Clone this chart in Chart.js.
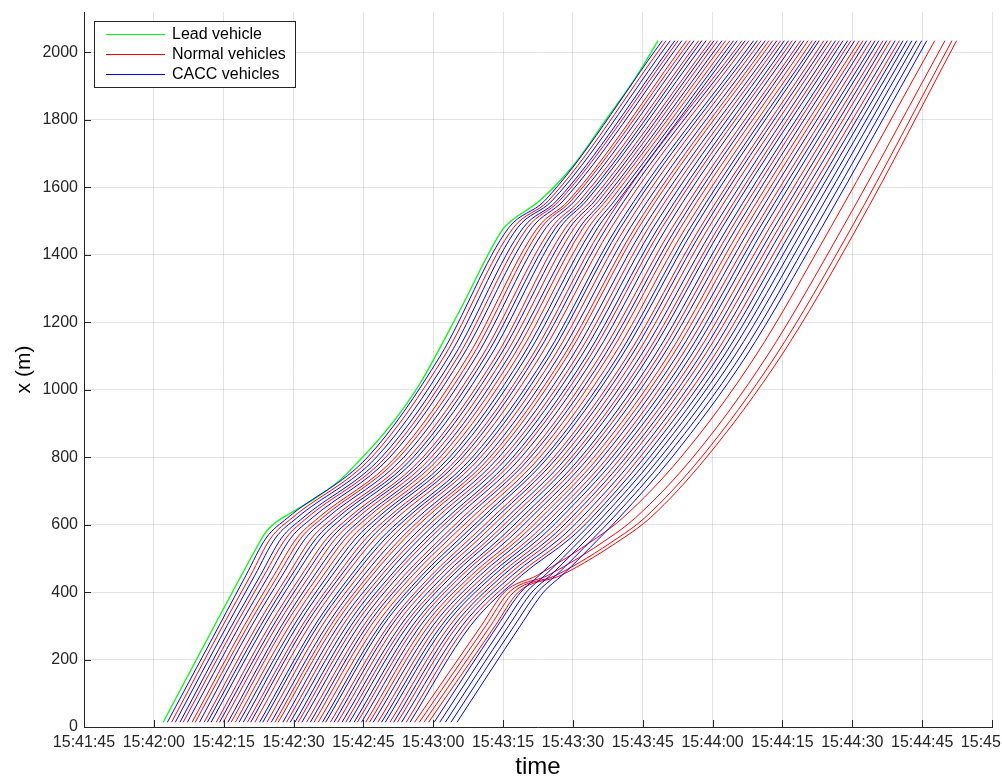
<!DOCTYPE html>
<html>
<head>
<meta charset="utf-8">
<title>Vehicle trajectories</title>
<script src="https://cdn.jsdelivr.net/npm/chart.js@4.4.1/dist/chart.umd.min.js"></script>
<style>
  html, body { margin: 0; padding: 0; background: #fff; }
</style>
</head>
<body>
<canvas id="traj_chart" width="1002" height="778"></canvas>
<script>
// all times are seconds after 15:42:00, positions in metres
const BASE_CLOCK = 15 * 3600 + 42 * 60;
const xMin = -15, xMax = 180, xStep = 15;
const yMin = 0, yMax = 2120, yStep = 200;

// lead vehicle (green)
const leadTime = [2.0, 22.1, 23.5, 24.8, 26.5, 29.2, 34.6, 39.9, 44.2, 48.5, 52.8, 57.1, 65.7, 75.0, 76.8, 82.9, 90.4, 97.2, 103.3, 108.3];
const leadPos  = [14, 533, 567, 590, 610, 633, 678, 731, 791, 856, 930, 1017, 1235, 1477, 1501, 1561, 1670, 1803, 1922, 2035];

// followers: N = normal, C = CACC
const vehicleType = 'CNCCNCNNCNCCNCNCNNCCNCNCCNCNNCNCCNCNCNNCCNCNCNCCNCNNCNCCNCNCNCCCCCCNNNN'.split('');

// positions where each follower's crossing time was read (null = not read there)
const levels = [14, 300, 400, 450, 560, 620, 800, 1100, 1480, 1560, 2035];

const tAt14 = [
  2.9, 3.8, 4.6, 5.6, 6.3, 7.2, 8.2, 8.9, 9.8, 10.8,
  11.5, 12.3, 13.4, 14.1, 14.9, 15.9, 16.6, 17.5, 18.3, 19.2,
  20.1, 20.8, 21.7, 22.7, 23.4, 24.3, 25.2, 26.0, 26.7, 27.7,
  28.5, 29.3, 30.3, 31.0, 31.8, 32.8, 33.6, 34.4, 35.3, 36.2,
  36.9, 37.9, 38.7, 39.5, 40.4, 41.2, 42.0, 43.0, 43.7, 44.6,
  45.5, 46.3, 47.1, 48.1, 48.9, 49.7, 50.7, 51.5, 52.3, 53.2,
  54.2, 55.0,
  60.2, 61.4, 62.6, 63.8, 65.1,
  56.0, 57.0, 58.0, 59.0];
const tAt300 = [
  14.0, 14.8, 15.7, 16.7, 17.5, 18.4, 19.4, 20.2, 21.0, 22.1,
  22.9, 23.7, 24.8, 25.6, 26.4, 27.4, 28.1, 29.1, 30.0, 30.8,
  31.8, 32.5, 33.4, 34.5, 35.2, 36.1, 37.1, 37.9, 38.7, 39.6,
  40.5, 41.4, 42.3, 43.1, 44.0, 45.0, 45.8, 46.6, 47.6, 48.5,
  49.2, 50.3, 51.0, 51.9, 52.9, 53.7, 54.5, 55.5, 56.3, 57.2,
  58.1, 59.0, 59.9, 60.8, 61.7, 62.5, 63.5, 64.4, 65.2, 66.2,
  67.1, 68.0,
  73.8, 75.0, 76.2, 77.4, 78.7,
  70.3, 71.3, 72.3, 73.3];
// only the late vehicles at the back show a clear bend here
const tAt400 = Array(62).fill(null).concat([
  78.8, 80.0, 81.2, 82.4, 83.7,
  75.3, 76.3, 77.3, 78.3]);
const tAt450 = [
  19.8, 20.8, 21.7, 22.9, 23.7, 24.7, 25.8, 26.7, 27.6, 28.8,
  29.6, 30.5, 31.7, 32.5, 33.5, 34.5, 35.4, 36.4, 37.4, 38.3,
  39.4, 40.2, 41.1, 42.3, 43.1, 44.1, 45.1, 46.1, 46.9, 48.0,
  48.9, 49.8, 50.9, 51.7, 52.7, 53.8, 54.7, 55.6, 56.7, 57.6,
  58.4, 59.6, 60.4, 61.4, 62.4, 63.4, 64.2, 65.4, 66.2, 67.2,
  68.2, 69.1, 70.1, 71.1, 72.1, 73.0, 74.1, 75.0, 76.0, 77.0,
  78.1, 79.0,
  82.8, 84.0, 85.2, 86.4, 87.7,
  82.4, 84.7, 86.4, 87.5];
const tAt560 = [
  24.1, 25.1, 26.1, 27.4, 28.4, 29.4, 30.7, 31.6, 32.6, 33.9,
  34.9, 35.9, 37.2, 38.1, 39.1, 40.3, 41.2, 42.4, 43.4, 44.5,
  45.6, 46.6, 47.6, 48.9, 49.8, 50.9, 52.0, 53.1, 54.0, 55.2,
  56.2, 57.2, 58.4, 59.3, 60.4, 61.7, 62.6, 63.6, 64.8, 65.8,
  66.8, 68.0, 69.0, 70.0, 71.2, 72.2, 73.1, 74.4, 75.3, 76.4,
  77.6, 78.6, 79.6, 80.8, 81.8, 82.9, 84.0, 85.1, 86.1, 87.3,
  88.5, 89.5,
  90.8, 92.0, 93.2, 94.4, 95.7,
  95.0, 97.7, 99.6, 100.8];
const tAt620 = [
  28.7, 29.7, 30.7, 32.0, 32.9, 34.0, 35.3, 36.2, 37.2, 38.5,
  39.4, 40.5, 41.8, 42.7, 43.7, 44.9, 45.8, 47.0, 48.0, 49.0,
  50.2, 51.1, 52.2, 53.5, 54.4, 55.4, 56.6, 57.6, 58.5, 59.7,
  60.7, 61.8, 63.0, 63.9, 64.9, 66.2, 67.1, 68.2, 69.3, 70.4,
  71.3, 72.6, 73.5, 74.5, 75.7, 76.7, 77.7, 78.9, 79.9, 80.9,
  82.1, 83.1, 84.2, 85.3, 86.4, 87.4, 88.6, 89.6, 90.6, 91.8,
  93.0, 94.0,
  95.0, 96.2, 97.4, 98.6, 99.9,
  100.7, 103.4, 105.4, 106.6];
const tAt800 = [
  45.9, 46.8, 47.8, 48.9, 49.8, 50.7, 51.9, 52.7, 53.7, 54.8,
  55.7, 56.6, 57.8, 58.6, 59.6, 60.6, 61.5, 62.5, 63.5, 64.4,
  65.5, 66.3, 67.3, 68.4, 69.3, 70.2, 71.3, 72.2, 73.1, 74.1,
  75.1, 76.0, 77.1, 77.9, 78.9, 80.1, 80.9, 81.9, 82.9, 83.9,
  84.7, 85.9, 86.7, 87.7, 88.7, 89.7, 90.5, 91.7, 92.5, 93.5,
  94.5, 95.5, 96.4, 97.5, 98.4, 99.4, 100.4, 101.4, 102.3, 103.4,
  104.4, 105.4,
  106.5, 107.6, 108.8, 110.0, 111.3,
  113.2, 115.8, 117.6, 118.7];
const tAt1100 = [
  61.5, 62.4, 63.4, 64.5, 65.4, 66.3, 67.5, 68.4, 69.3, 70.5,
  71.3, 72.3, 73.5, 74.3, 75.3, 76.3, 77.2, 78.2, 79.2, 80.1,
  81.2, 82.0, 83.0, 84.2, 85.0, 86.0, 87.0, 88.0, 88.8, 89.9,
  90.9, 91.8, 92.9, 93.7, 94.7, 95.8, 96.7, 97.6, 98.7, 99.7,
  100.5, 101.7, 102.5, 103.5, 104.5, 105.5, 106.3, 107.5, 108.4, 109.3,
  110.4, 111.3, 112.3, 113.3, 114.3, 115.3, 116.3, 117.3, 118.2, 119.3,
  120.3, 121.3,
  122.4, 123.5, 124.7, 126.0, 127.2,
  129.2, 131.7, 133.5, 134.7];
const tAt1480 = [
  76.2, 77.2, 78.1, 79.3, 80.2, 81.2, 82.4, 83.2, 84.2, 85.4,
  86.3, 87.2, 88.4, 89.3, 90.3, 91.4, 92.2, 93.3, 94.3, 95.3,
  96.3, 97.2, 98.2, 99.4, 100.2, 101.2, 102.3, 103.3, 104.1, 105.2,
  106.2, 107.2, 108.3, 109.1, 110.1, 111.3, 112.2, 113.1, 114.2, 115.2,
  116.1, 117.3, 118.1, 119.1, 120.2, 121.2, 122.0, 123.2, 124.1, 125.1,
  126.1, 127.1, 128.1, 129.2, 130.1, 131.1, 132.2, 133.2, 134.2, 135.2,
  136.3, 137.3,
  138.4, 139.6, 140.8, 142.1, 143.4,
  145.3, 147.9, 149.8, 151.0];
// the second slow-down is only visible for the vehicles right behind the leader
const tAt1560 = [
  83.9, 84.7, 85.5, 86.5, 87.1, 87.9, 89.0, 89.6, 90.4, 91.4,
  92.2, 92.9, 93.9, 94.7, 95.5, 96.4, 97.1, 98.0, 98.9, 99.7].concat(Array(51).fill(null));
const tAt2035 = [
  109.2, 110.0, 110.9, 111.9, 112.6, 113.4, 114.4, 115.2, 116.0, 117.0,
  117.7, 118.6, 119.6, 120.3, 121.1, 122.0, 122.8, 123.7, 124.5, 125.3,
  126.3, 127.0, 127.8, 128.8, 129.6, 130.4, 131.3, 132.1, 132.9, 133.8,
  134.6, 135.4, 136.3, 137.1, 137.9, 138.9, 139.6, 140.5, 141.4, 142.2,
  142.9, 143.9, 144.7, 145.5, 146.4, 147.2, 148.0, 149.0, 149.7, 150.5,
  151.5, 152.3, 153.1, 154.0, 154.9, 155.7, 156.6, 157.4, 158.2, 159.2,
  160.1, 160.9,
  161.8, 162.8, 163.8, 164.9, 166.0,
  167.7, 169.9, 171.4, 172.4];

const crossTimes = [tAt14, tAt300, tAt400, tAt450, tAt560, tAt620, tAt800, tAt1100, tAt1480, tAt1560, tAt2035];

const COLORS = { N: 'rgb(255,0,0)', C: 'rgb(0,0,255)', lead: 'rgb(0,255,0)' };
const AXIS_COLOR = '#262626';

function clockLabel(v) {
  let s = Math.round(BASE_CLOCK + v);
  const h = Math.floor(s / 3600); s -= h * 3600;
  const m = Math.floor(s / 60); s -= m * 60;
  const pad = n => String(n).padStart(2, '0');
  return h + ':' + pad(m) + ':' + pad(s);
}

const datasets = vehicleType.map((type, i) => ({
  label: type === 'N' ? 'Normal vehicles' : 'CACC vehicles',
  data: levels.map((pos, j) => ({ x: crossTimes[j][i], y: pos })).filter(p => p.x !== null),
  borderColor: COLORS[type],
}));
datasets.push({
  label: 'Lead vehicle',
  data: leadTime.map((t, i) => ({ x: t, y: leadPos[i] })),
  borderColor: COLORS.lead,
  borderWidth: 1.3,
});

// MATLAB style: ticks pointing into the plot
const innerTicks = {
  id: 'innerTicks',
  afterDatasetsDraw(chart) {
    const { ctx, chartArea, scales } = chart;
    ctx.save();
    ctx.strokeStyle = AXIS_COLOR;
    ctx.lineWidth = 1;
    ctx.beginPath();
    scales.x.ticks.forEach(t => {
      const px = Math.round(scales.x.getPixelForValue(t.value)) + 0.5;
      ctx.moveTo(px, chartArea.bottom);
      ctx.lineTo(px, chartArea.bottom - 7);
    });
    scales.y.ticks.forEach(t => {
      const py = Math.round(scales.y.getPixelForValue(t.value)) + 0.5;
      ctx.moveTo(chartArea.left, py);
      ctx.lineTo(chartArea.left + 7, py);
    });
    ctx.stroke();
    ctx.restore();
  }
};

const boxLegend = {
  id: 'boxLegend',
  afterDraw(chart) {
    const ctx = chart.ctx;
    const entries = [['Lead vehicle', COLORS.lead], ['Normal vehicles', COLORS.N], ['CACC vehicles', COLORS.C]];
    ctx.save();
    ctx.fillStyle = '#fff';
    ctx.fillRect(94.5, 21.5, 201, 66);
    ctx.strokeStyle = AXIS_COLOR;
    ctx.lineWidth = 1;
    ctx.strokeRect(94.5, 21.5, 201, 66);
    ctx.font = '16px "Liberation Sans", Arial, Helvetica, sans-serif';
    ctx.textBaseline = 'middle';
    entries.forEach(([text, color], i) => {
      const y = 34 + i * 20;
      ctx.strokeStyle = color;
      ctx.beginPath();
      ctx.moveTo(106, y + 0.5);
      ctx.lineTo(165, y + 0.5);
      ctx.stroke();
      ctx.fillStyle = '#000';
      ctx.fillText(text, 172, y + 1);
    });
    ctx.restore();
  }
};

Chart.defaults.font.family = '"Liberation Sans", Arial, Helvetica, sans-serif';
Chart.defaults.color = AXIS_COLOR;

new Chart('traj_chart', {
  type: 'line',
  data: { datasets },
  options: {
    responsive: false,
    animation: false,
    events: [],
    layout: { padding: { top: 12, right: 10, left: 0, bottom: 0 } },
    elements: {
      point: { radius: 0 },
      line: { borderWidth: 1, cubicInterpolationMode: 'monotone' }
    },
    plugins: { legend: { display: false }, tooltip: { enabled: false } },
    scales: {
      x: {
        type: 'linear', min: xMin, max: xMax,
        ticks: { stepSize: xStep, callback: clockLabel, font: { size: 16 }, padding: 6, maxRotation: 0, autoSkip: false },
        grid: { color: 'rgba(0,0,0,0.11)', drawTicks: false },
        border: { color: AXIS_COLOR },
        title: { display: true, text: 'time', color: '#000', font: { size: 24, lineHeight: 0.85 }, padding: { top: 0, bottom: 0 } },
        afterFit(scale) { scale.height = 51; scale.paddingLeft = 0; scale.paddingRight = 0; }
      },
      y: {
        type: 'linear', min: yMin, max: yMax,
        ticks: { stepSize: yStep, includeBounds: false, font: { size: 16 }, padding: 6, callback: v => String(v) },
        grid: { color: 'rgba(0,0,0,0.11)', drawTicks: false },
        border: { color: AXIS_COLOR },
        title: { display: true, text: 'x (m)', color: '#000', font: { size: 21 }, padding: { top: 12, bottom: 0 } },
        afterFit(scale) { scale.width = 84; scale.paddingTop = 0; scale.paddingBottom = 0; }
      }
    }
  },
  plugins: [innerTicks, boxLegend]
});
</script>
</body>
</html>
